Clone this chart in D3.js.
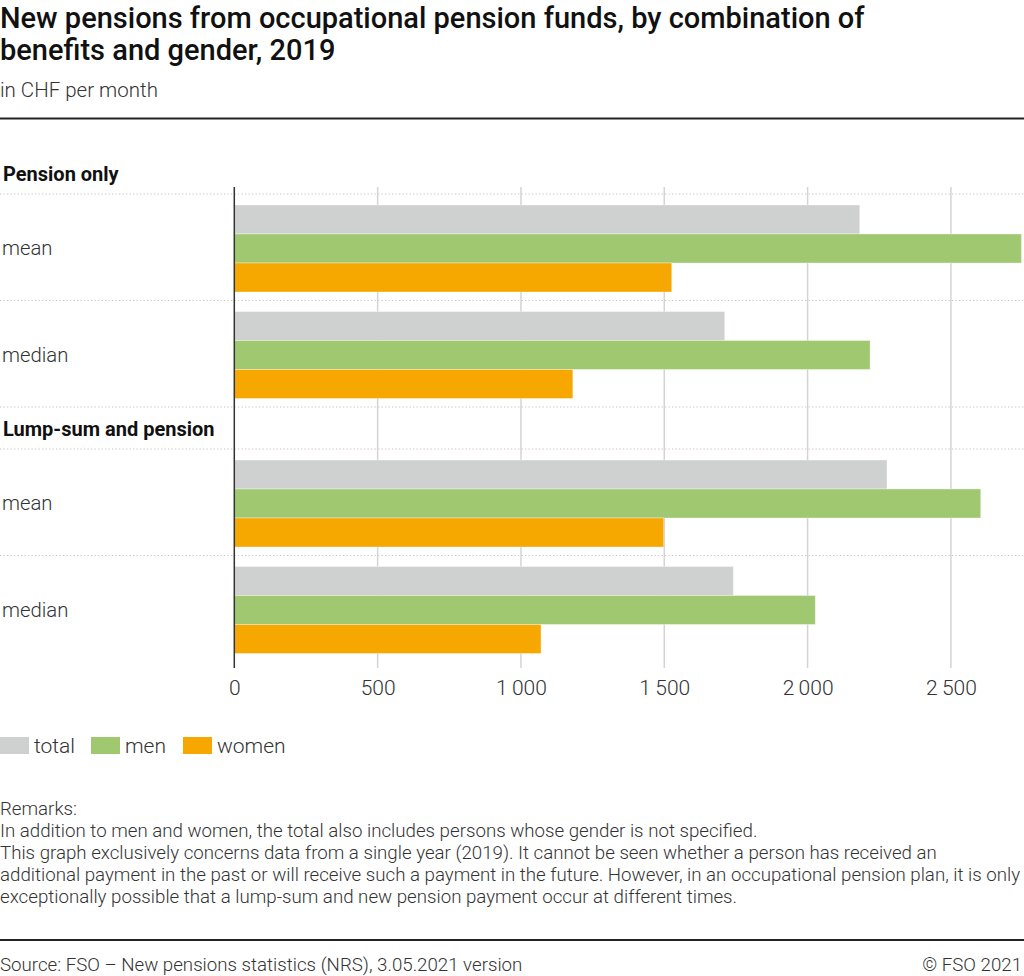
<!DOCTYPE html>
<html><head><meta charset="utf-8">
<script src="https://cdn.jsdelivr.net/npm/d3@7"></script>
<style>
body{margin:0;background:#fff;}
svg{display:block;font-family:Roboto,"Noto Sans",sans-serif;}
</style></head><body>
<svg id="chart" width="1024" height="976"></svg>
<script>
const sections = ["Pension only", "Lump-sum and pension"];
const measures = ["mean", "median"];
const seriesNames = ["total", "men", "women"];
const colors = ["#cfd1d0", "#a0c870", "#f6a800"];
// values per section: [mean, median] for each series
const totalValues = [[2182, 1711], [2277, 1741]];
const menValues = [[2746, 2218], [2604, 2027]];
const womenValues = [[1526, 1181], [1498, 1070]];
const tickValues = [0, 500, 1000, 1500, 2000, 2500];
const remarks = [
  "Remarks:",
  "In addition to men and women, the total also includes persons whose gender is not specified.",
  "This graph exclusively concerns data from a single year (2019). It cannot be seen whether a person has received an",
  "additional payment in the past or will receive such a payment in the future. However, in an occupational pension plan, it is only",
  "exceptionally possible that a lump-sum and new pension payment occur at different times."
];

const svg = d3.select("#chart");
const W = 1024;
const fmt = v => d3.format(",")(v).replace(/,/g, "\u2009");

// Title
svg.append("text").attr("x", 0).attr("y", 28).attr("font-size", 29).attr("font-weight", 500).attr("fill", "#111")
  .text("New pensions from occupational pension funds, by combination of");
svg.append("text").attr("x", 0).attr("y", 60).attr("font-size", 29).attr("font-weight", 500).attr("fill", "#111")
  .text("benefits and gender, 2019");
svg.append("text").attr("x", 0).attr("y", 97).attr("font-size", 20.5).attr("font-weight", 300).attr("fill", "#333")
  .text("in CHF per month");
svg.append("line").attr("x1", 0).attr("x2", W).attr("y1", 118.5).attr("y2", 118.5).attr("stroke", "#222").attr("stroke-width", 2);

// Layout rows
const x = d3.scaleLinear().domain([0, 2748]).range([234.3, 1022]);
const headerH = 42, rowH = 106.5;
const top0 = 152;
const rows = [];
let yy = top0;
sections.forEach((s, si) => {
  rows.push({type: "header", label: s, y0: yy});
  yy += headerH;
  measures.forEach((m, mi) => {
    rows.push({type: "row", label: m, y0: yy, si, mi,
      vals: [totalValues[si][mi], menValues[si][mi], womenValues[si][mi]]});
    yy += rowH;
  });
});
const plotTop = 187, plotBottom = 668;

// dotted separators
const seps = [];
rows.forEach(r => { if (r.type === "row") { seps.push(r.y0); seps.push(r.y0 + rowH); } });
const uniqSeps = Array.from(new Set(seps.map(v => Math.round(v * 10) / 10)));
// gridlines
svg.append("g").selectAll("line").data(tickValues.slice(1)).join("line")
  .attr("x1", d => x(d)).attr("x2", d => x(d)).attr("y1", plotTop).attr("y2", plotBottom)
  .attr("stroke", "#d4d4d4").attr("stroke-width", 1.5);
svg.append("g").selectAll("line").data(uniqSeps.filter(v => v < plotBottom - 20)).join("line")
  .attr("x1", 0).attr("x2", W).attr("y1", d => d).attr("y2", d => d)
  .attr("stroke", "#c8c8c8").attr("stroke-width", 1.2).attr("stroke-dasharray", "1.3,2.2");

// bars
const inner = d3.scaleBand().domain(seriesNames).range([11, 98]).padding(0);
rows.filter(r => r.type === "row").forEach(r => {
  svg.append("g").selectAll("rect").data(r.vals).join("rect")
    .attr("x", x(0)).attr("y", (d, i) => r.y0 + inner(seriesNames[i]))
    .attr("width", d => x(d) - x(0)).attr("height", inner.bandwidth())
    .attr("fill", (d, i) => colors[i]).attr("stroke", "#fff").attr("stroke-opacity", 0.35).attr("stroke-width", 1);
});

// labels
rows.forEach(r => {
  if (r.type === "header") {
    svg.append("text").attr("x", 3).attr("y", r.y0 + 29).attr("font-size", 20).attr("font-weight", 700).attr("fill", "#111").text(r.label);
  } else {
    svg.append("text").attr("x", 2).attr("y", r.y0 + 61).attr("font-size", 20.3).attr("font-weight", 300).attr("fill", "#333").text(r.label);
  }
});

// axis
svg.append("line").attr("x1", x(0)).attr("x2", x(0)).attr("y1", plotTop).attr("y2", plotBottom).attr("stroke", "#333").attr("stroke-width", 1.5);
const axis = d3.axisBottom(x).tickValues(tickValues).tickFormat(fmt).tickSize(0).tickPadding(0);
const ag = svg.append("g").attr("transform", `translate(0,${plotBottom})`).call(axis);
ag.select(".domain").remove();
ag.selectAll("text").attr("dy", 0).attr("y", 27).attr("font-size", 21).attr("font-weight", 300).attr("fill", "#333").attr("font-family", "Roboto");

// legend
const leg = svg.append("g").attr("transform", "translate(0,737)");
const legX = [0, 91, 183];
seriesNames.forEach((s, i) => {
  leg.append("rect").attr("x", legX[i]).attr("y", 0).attr("width", 29).attr("height", 17).attr("fill", colors[i]);
  leg.append("text").attr("x", legX[i] + 34).attr("y", 15.5).attr("font-size", 21).attr("font-weight", 300).attr("fill", "#333").text(s);
});

// remarks
svg.append("g").selectAll("text").data(remarks).join("text")
  .attr("x", 0).attr("y", (d, i) => 815 + i * 22).attr("font-size", 18.7).attr("font-weight", 300).attr("fill", "#333").text(d => d);

// footer
svg.append("line").attr("x1", 0).attr("x2", W).attr("y1", 940).attr("y2", 940).attr("stroke", "#222").attr("stroke-width", 2);
svg.append("text").attr("x", 0).attr("y", 971).attr("font-size", 18.7).attr("font-weight", 300).attr("fill", "#333")
  .text("Source: FSO \u2013 New pensions statistics (NRS), 3.05.2021 version");
svg.append("text").attr("x", 1022).attr("y", 971).attr("text-anchor", "end").attr("font-size", 18.7).attr("font-weight", 300).attr("fill", "#333")
  .text("\u00a9 FSO 2021");
</script>
</body></html>
